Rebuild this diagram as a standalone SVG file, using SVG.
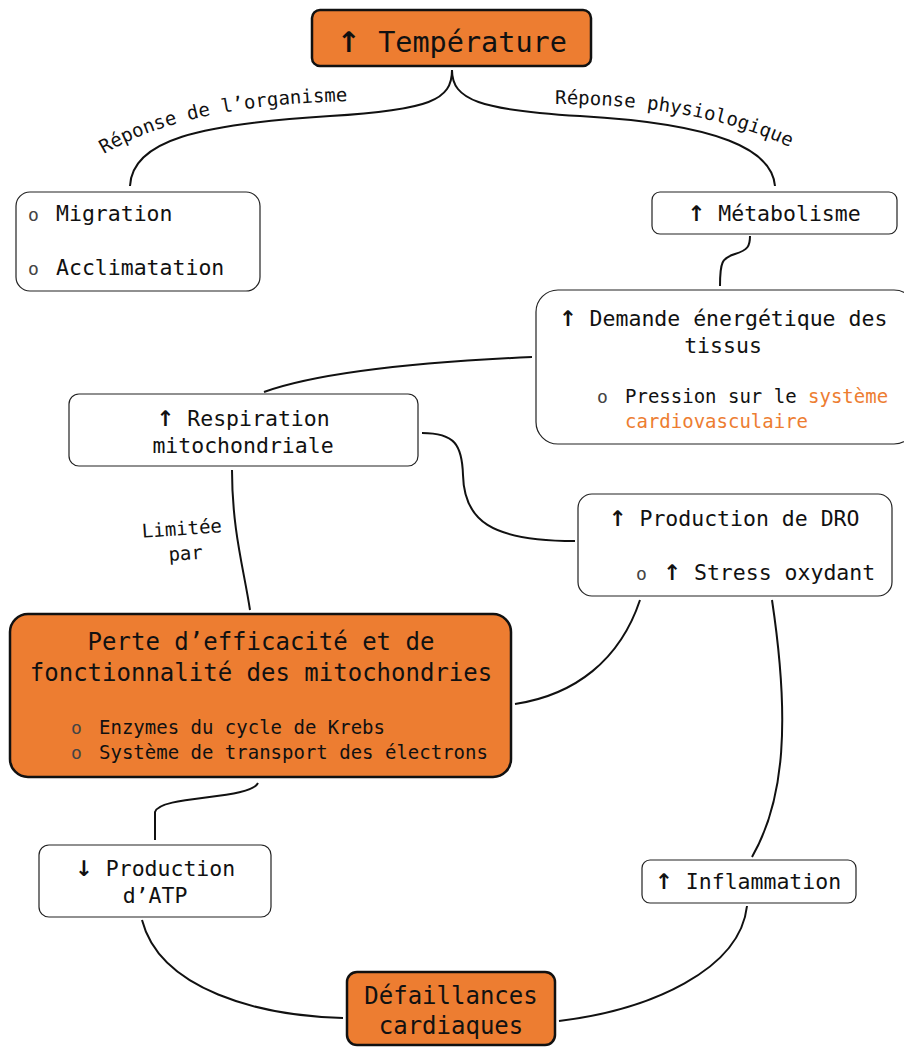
<svg xmlns="http://www.w3.org/2000/svg" width="904" height="1047" viewBox="0 0 904 1047">
<style>
text{font-family:"DejaVu Sans Mono","Liberation Mono",monospace;fill:#111}
.box{fill:#fff;stroke:#222;stroke-width:1.2}
.hot{fill:#ED7D31;stroke:#111;stroke-width:2.5}
.c{text-anchor:middle}
.m{font-size:21.5px}
.s{font-size:19px}
.b{font-size:24px}
.l{font-size:19px}
.o{font-size:18px;fill:#444}
.or{fill:#ED7D31}
.ar{font-family:"DejaVu Sans",sans-serif;font-weight:bold}
.conn path{fill:none;stroke:#111;stroke-width:2}
</style>
<defs>
<path id="lp1" d="M104,154 Q190,103 358,101"/>
<path id="lp2" d="M555,104 Q705,104 800,152"/>
</defs>
<g id="connectors" class="conn">
<path d="M452,70 C452,100 430,110 330,116 C200,124 132,140 130,186"/>
<path d="M452,70 C452,100 480,110 580,116 C720,124 772,150 775,186"/>
<path d="M720,286 C720,262 722,258 735,254 C748,250 750,246 750,236"/>
<path d="M532,357 C420,362 320,372 264,392"/>
<path d="M422,433 C455,433 462,445 463,475 C464,520 490,541 575,541"/>
<path d="M232,470 C232,530 244,570 250,610"/>
<path d="M640,600 C620,660 575,695 515,704"/>
<path d="M772,600 C790,720 785,800 752,857"/>
<path d="M258,783 C250,800 160,795 155,812 L155,840"/>
<path d="M142,920 C160,990 260,1016 343,1018"/>
<path d="M747,906 C740,970 650,1010 559,1021"/>
</g>
<g id="label-organisme"><text class="l"><textPath href="#lp1">Réponse de l’organisme</textPath></text></g>
<g id="label-physio"><text class="l"><textPath href="#lp2">Réponse physiologique</textPath></text></g>
<g id="label-limitee"><text class="l c" transform="rotate(-4 183 545)"><tspan x="183" y="535">Limitée</tspan><tspan x="185" y="560">par</tspan></text></g>
<g id="n-temperature">
<rect class="hot" x="312" y="10" width="279" height="56" rx="8"/>
<text class="c" x="452" y="52" font-size="28.5"><tspan class="ar">↑</tspan> Température</text>
</g>
<g id="n-migration">
<rect class="box" x="16" y="192" width="244" height="99" rx="14"/>
<text class="o" x="28" y="221">o</text><text class="m" x="56" y="221">Migration</text>
<text class="o" x="28" y="275">o</text><text class="m" x="56" y="275">Acclimatation</text>
</g>
<g id="n-metabolisme">
<rect class="box" x="652" y="192" width="245" height="42" rx="8"/>
<text class="m c" x="774" y="221"><tspan class="ar">↑</tspan> Métabolisme</text>
</g>
<g id="n-demande">
<rect class="box" x="536" y="290" width="380" height="154" rx="22"/>
<text class="m c" x="723" y="326"><tspan class="ar">↑</tspan> Demande énergétique des</text>
<text class="m c" x="723" y="353">tissus</text>
<text class="o" x="597" y="403">o</text><text class="s" x="625" y="403">Pression sur le <tspan class="or">système</tspan></text>
<text class="s or" x="625" y="428">cardiovasculaire</text>
</g>
<g id="n-respiration">
<rect class="box" x="69" y="394" width="349" height="72" rx="10"/>
<text class="m c" x="243" y="426"><tspan class="ar">↑</tspan> Respiration</text>
<text class="m c" x="243" y="453">mitochondriale</text>
</g>
<g id="n-dro">
<rect class="box" x="578" y="494" width="314" height="102" rx="14"/>
<text class="m c" x="734" y="526"><tspan class="ar">↑</tspan> Production de DRO</text>
<text class="o" x="636" y="580">o</text><text class="m" x="663" y="580"><tspan class="ar">↑</tspan> Stress oxydant</text>
</g>
<g id="n-perte">
<rect class="hot" x="10" y="614" width="501" height="163" rx="18"/>
<text class="b c" x="261" y="650">Perte d’efficacité et de</text>
<text class="b c" x="261" y="681">fonctionnalité des mitochondries</text>
<text class="o" x="71" y="734">o</text><text class="s" x="99" y="734">Enzymes du cycle de Krebs</text>
<text class="o" x="71" y="759">o</text><text class="s" x="99" y="759">Système de transport des électrons</text>
</g>
<g id="n-atp">
<rect class="box" x="39" y="845" width="232" height="72" rx="10"/>
<text class="m c" x="155" y="876"><tspan class="ar">↓</tspan> Production</text>
<text class="m c" x="155" y="903">d’ATP</text>
</g>
<g id="n-inflammation">
<rect class="box" x="642" y="860" width="214" height="43" rx="8"/>
<text class="m c" x="748" y="889"><tspan class="ar">↑</tspan> Inflammation</text>
</g>
<g id="n-defaillances">
<rect class="hot" x="347" y="972" width="208" height="73" rx="10"/>
<text class="b c" x="451" y="1004">Défaillances</text>
<text class="b c" x="451" y="1034">cardiaques</text>
</g>
</svg>
